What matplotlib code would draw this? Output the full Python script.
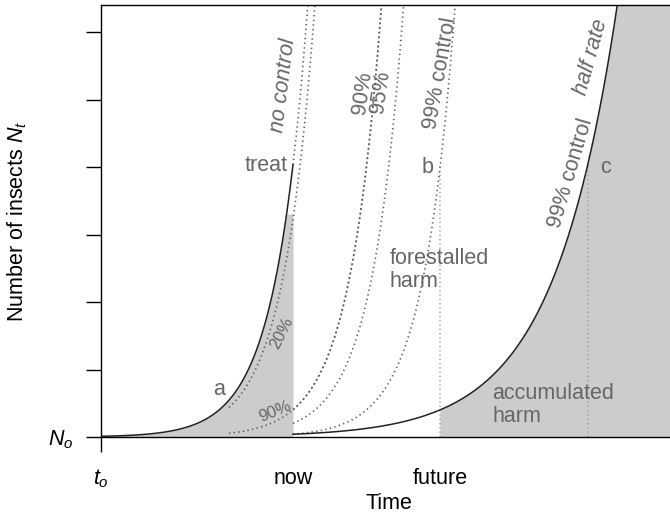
import numpy as np
import matplotlib
matplotlib.use("Agg")
import matplotlib.pyplot as plt

plt.rcParams["font.family"] = ["Liberation Sans", "DejaVu Sans"]
plt.rcParams["mathtext.fontset"] = "custom"
plt.rcParams["mathtext.rm"] = "Liberation Sans"
plt.rcParams["mathtext.it"] = "Liberation Sans:italic"

# model values
r = 1.0                 # growth rate
t_now = 6.0
t_early = 4.0           # where the earlier-control curves start
kill_early = [0.2, 0.9]           # control fractions applied to whole curve
kill_now = [0.9, 0.95, 0.99]      # control fractions applied at "now"
kill_main = 0.99                  # actual treatment, followed by half rate
t_future = t_now + np.log(1 / (1 - kill_main)) / r
t_c = t_now + np.log(1 / (1 - kill_main)) / (r / 2)
y_top = 640
x_right = 18.0
yticks = [0, 100, 200, 300, 400, 500, 600]
xtick_pos = [0, t_now, t_future]
xtick_lab = ["$t_o$", "now", "future"]

txt_col = "#666666"
dot_col = "#5a5a5a"
fill_col = "#cccccc"
dots = (0, (0.8, 2.0))

fig = plt.figure(figsize=(6.7, 5.16), dpi=100)
ax = fig.add_axes([101 / 670, 79 / 516, 576 / 670, 432 / 516])

def N(t):
    return np.exp(r * t)

# shaded areas
t_fill = np.append(np.arange(0, t_now - 0.1, 0.2), t_now)
n_fill = N(np.minimum(t_fill, t_fill[-2]))
ax.fill_between(t_fill, 0, n_fill, color=fill_col, lw=0)

n_treat = N(t_now) * (1 - kill_main)
t_acc = np.linspace(t_future, x_right, 200)
ax.fill_between(t_acc, 0, n_treat * np.exp(r / 2 * (t_acc - t_now)), color=fill_col, lw=0)

# dotted hypothetical curves
t_top = np.log(y_top) / r
t1 = np.linspace(t_now, t_top, 50)
ax.plot(t1, N(t1), ls=dots, color=dot_col, lw=1.2)
for k in kill_early:
    tk = np.linspace(t_early, np.log(y_top / (1 - k)) / r, 200)
    ax.plot(tk, (1 - k) * N(tk), ls=dots, color=dot_col, lw=1.2)
for k in kill_now:
    tk = np.linspace(t_now, np.log(y_top / (1 - k)) / r, 200)
    ax.plot(tk, (1 - k) * N(tk), ls=dots, color=dot_col, lw=1.2)

ax.plot([t_future, t_future], [0, N(t_now)], ls=dots, color="#999999", lw=1.1)
ax.plot([t_c, t_c], [0, N(t_now)], ls=dots, color="#999999", lw=1.1)

# solid curves
t0 = np.linspace(0, t_now, 300)
ax.plot(t0, N(t0), color="#222222", lw=1.1)
t2 = np.linspace(t_now, x_right, 300)
ax.plot(t2, n_treat * np.exp(r / 2 * (t2 - t_now)), color="#222222", lw=1.1)

# annotations
fs = 15.5
ax.text(5.83, 402, "treat", ha="right", va="center", color=txt_col, fontsize=fs)
ax.text(5.69, 521, "no control", ha="center", va="center", rotation=83,
        color=txt_col, fontsize=fs, style="italic")
ax.text(8.16, 510, "90%", ha="center", va="center", rotation=82, color=txt_col, fontsize=fs)
ax.text(8.75, 511, "95%", ha="center", va="center", rotation=82, color=txt_col, fontsize=fs)
ax.text(10.6, 539, "99% control", ha="center", va="center", rotation=80, color=txt_col, fontsize=fs)
ax.text(10.22, 399, "b", ha="center", va="center", color=txt_col, fontsize=fs)
ax.text(14.69, 391, "99% control", ha="center", va="center", rotation=73.5,
        color=txt_col, fontsize=fs)
ax.text(15.31, 563, "half rate", ha="center", va="center", rotation=74.5,
        color=txt_col, fontsize=fs, style="italic")
ax.text(15.78, 399, "c", ha="center", va="center", color=txt_col, fontsize=fs)
ax.text(9.03, 247, "forestalled\nharm", ha="left", va="center", color=txt_col,
        fontsize=fs, linespacing=1.1)
ax.text(12.22, 47, "accumulated\nharm", ha="left", va="center", color=txt_col,
        fontsize=fs, linespacing=1.1)
ax.text(3.69, 70, "a", ha="center", va="center", color=txt_col, fontsize=fs)
ax.text(5.66, 154, "20%", ha="center", va="center", rotation=63, color=txt_col, fontsize=12)
ax.text(5.44, 37, "90%", ha="center", va="center", rotation=22, color=txt_col, fontsize=12)

# axes
ax.set_xlim(0, x_right)
ax.set_ylim(0, y_top)
ax.spines["right"].set_visible(False)
for s in ["left", "top", "bottom"]:
    ax.spines[s].set_linewidth(1.0)

ax.set_yticks(yticks)
ax.set_yticklabels(["$N_o$"] + [""] * (len(yticks) - 1))
ax.set_xticks(xtick_pos)
ax.set_xticklabels(xtick_lab)
ax.tick_params(axis="both", length=11, width=1.0, labelsize=fs)
ax.tick_params(axis="x", pad=11)
ax.tick_params(axis="y", pad=9)
for tk in ax.xaxis.get_major_ticks()[1:]:
    tk.tick1line.set_visible(False)

ax.set_xlabel("Time", fontsize=fs)
ax.set_ylabel("Number of insects $N_t$", fontsize=fs)
ax.xaxis.set_label_coords(0.5, -0.13)
ax.yaxis.set_label_coords(-0.125, 0.5)

fig.savefig("out.png", dpi=100)
